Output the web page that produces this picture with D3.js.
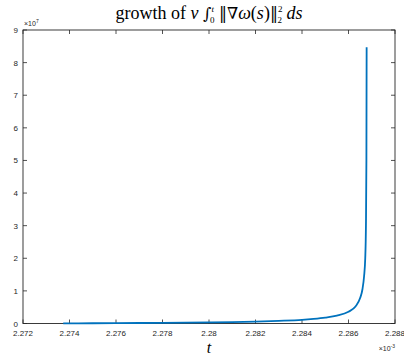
<!DOCTYPE html>
<html>
<head>
<meta charset="utf-8">
<script src="https://cdn.jsdelivr.net/npm/d3@7"></script>
<style>
  html, body { margin: 0; padding: 0; background: #fff; }
  svg { display: block; }
</style>
</head>
<body>
<svg id="chart" width="404" height="356"></svg>
<script>
// time in units of 1e-3
const times = [2.27373, 2.2750, 2.2760, 2.2770, 2.2780, 2.2790, 2.2800, 2.2810, 2.2820, 2.2830,
               2.2840, 2.2845, 2.2850, 2.2855, 2.2860, 2.2863, 2.2865, 2.2866, 2.28667,
               2.28672, 2.28675, 2.28677, 2.28678];
// accumulated enstrophy in units of 1e7
const values = [0.005, 0.008, 0.011, 0.015, 0.02, 0.027, 0.035, 0.045, 0.06, 0.08,
                0.11, 0.14, 0.18, 0.24, 0.36, 0.52, 0.78, 1.05, 1.45,
                2.0, 3.0, 5.0, 8.47];
const xTicks = [2.272, 2.274, 2.276, 2.278, 2.28, 2.282, 2.284, 2.286, 2.288];
const yTicks = [0, 1, 2, 3, 4, 5, 6, 7, 8, 9];

const svg = d3.select("#chart");
const m = { left: 23, right: 395, top: 30, bottom: 323.5 };
const x = d3.scaleLinear().domain([2.272, 2.288]).range([m.left, m.right]);
const y = d3.scaleLinear().domain([0, 9]).range([m.bottom, m.top]);
const axisColor = "#262626";
const tickFont = "Liberation Sans, Arial, sans-serif";

// box
svg.append("rect")
  .attr("x", m.left).attr("y", m.top)
  .attr("width", m.right - m.left).attr("height", m.bottom - m.top)
  .attr("fill", "none").attr("stroke", axisColor).attr("stroke-width", 0.9);

const tl = 4;
// x ticks (bottom + top, pointing inward)
xTicks.forEach(t => {
  const px = x(t);
  svg.append("line").attr("x1", px).attr("x2", px).attr("y1", m.bottom).attr("y2", m.bottom - tl)
    .attr("stroke", axisColor).attr("stroke-width", 0.8);
  svg.append("line").attr("x1", px).attr("x2", px).attr("y1", m.top).attr("y2", m.top + tl)
    .attr("stroke", axisColor).attr("stroke-width", 0.8);
  svg.append("text").attr("x", px).attr("y", m.bottom + 12)
    .attr("text-anchor", "middle").attr("font-family", tickFont).attr("font-size", 8)
    .attr("fill", axisColor).text(d3.format("")(+t.toFixed(3)));
});
// y ticks (left + right)
yTicks.forEach(v => {
  const py = y(v);
  svg.append("line").attr("x1", m.left).attr("x2", m.left + tl).attr("y1", py).attr("y2", py)
    .attr("stroke", axisColor).attr("stroke-width", 0.8);
  svg.append("line").attr("x1", m.right).attr("x2", m.right - tl).attr("y1", py).attr("y2", py)
    .attr("stroke", axisColor).attr("stroke-width", 0.8);
  svg.append("text").attr("x", m.left - 5).attr("y", py + 3)
    .attr("text-anchor", "end").attr("font-family", tickFont).attr("font-size", 8)
    .attr("fill", axisColor).text(v);
});

// exponent labels
const e7 = svg.append("text").attr("x", m.left + 1).attr("y", m.top - 4)
  .attr("font-family", tickFont).attr("font-size", 7).attr("fill", axisColor);
e7.append("tspan").text("×10");
e7.append("tspan").attr("dy", -3).attr("font-size", 5).text("7");

const e3 = svg.append("text").attr("x", m.right).attr("y", m.bottom + 27)
  .attr("text-anchor", "end")
  .attr("font-family", tickFont).attr("font-size", 7).attr("fill", axisColor);
e3.append("tspan").text("×10");
e3.append("tspan").attr("dy", -3).attr("font-size", 5).text("-3");

// curve
const line = d3.line().x((d, i) => x(times[i])).y(d => y(d)).curve(d3.curveMonotoneX);
svg.append("path").datum(values)
  .attr("d", line).attr("fill", "none")
  .attr("stroke", "#0072BD").attr("stroke-width", 1.8);

// title: growth of ν ∫_0^t ‖∇ω(s)‖_2^2 ds
const title = svg.append("text").attr("x", 209).attr("y", 19)
  .attr("text-anchor", "middle").attr("font-family", "Liberation Serif, serif")
  .attr("font-size", 18).attr("fill", "#000");
title.append("tspan").text("growth of ");
title.append("tspan").attr("font-style", "italic").text("ν ");
title.append("tspan").attr("font-family", "DejaVu Serif, serif").attr("font-style", "italic")
  .attr("font-size", 16).text("∫");
title.append("tspan").attr("font-size", 9).attr("dy", -7).attr("font-style", "italic").text("t");
title.append("tspan").attr("font-size", 9).attr("dy", 11).attr("dx", -4).text("0");
title.append("tspan").attr("dy", -4).text(" ");
title.append("tspan").attr("font-family", "DejaVu Serif, serif").attr("font-size", 16).text("‖∇");
title.append("tspan").attr("font-style", "italic").text("ω");
title.append("tspan").text("(");
title.append("tspan").attr("font-style", "italic").text("s");
title.append("tspan").text(")");
title.append("tspan").attr("font-family", "DejaVu Serif, serif").attr("font-size", 16).text("‖");
title.append("tspan").attr("font-size", 9).attr("dy", -7).text("2");
title.append("tspan").attr("font-size", 9).attr("dy", 11).attr("dx", -5).text("2");
title.append("tspan").attr("dy", -4).attr("font-style", "italic").text(" ds");

// x label
svg.append("text").attr("x", 209).attr("y", 353)
  .attr("text-anchor", "middle").attr("font-family", "Liberation Serif, serif")
  .attr("font-style", "italic").attr("font-size", 16).attr("fill", "#000").text("t");
</script>
</body>
</html>
